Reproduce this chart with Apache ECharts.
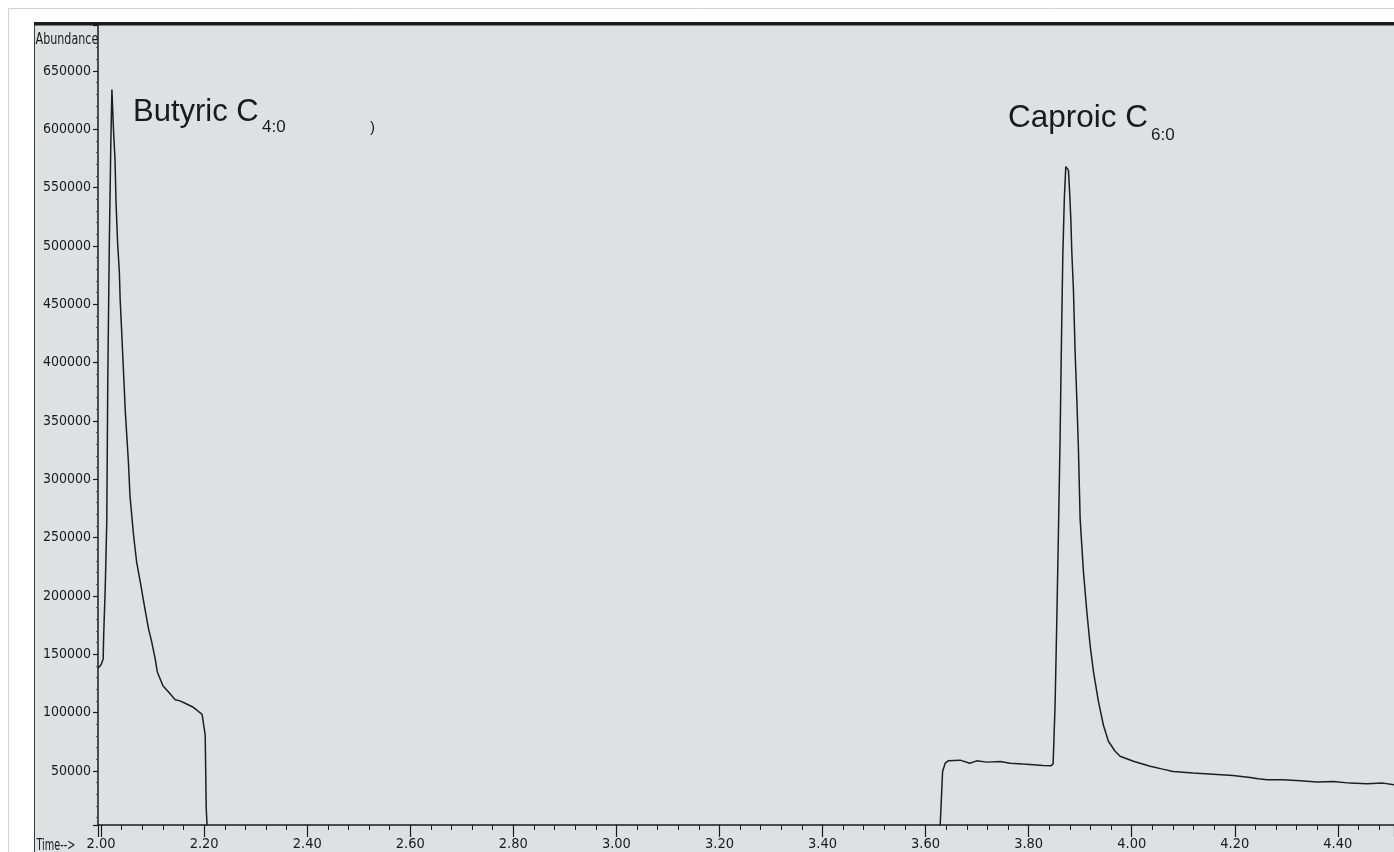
<!DOCTYPE html>
<html><head><meta charset="utf-8">
<script src="https://cdn.jsdelivr.net/npm/echarts@6/dist/echarts.min.js"></script>
<style>html,body{margin:0;padding:0;background:#fff;}#c{width:1394px;height:852px;}</style>
</head><body><div id="c"></div>
<script>
// Retention time (min)
const timeMin = [
  1.994, 2.000, 2.004, 2.005, 2.008, 2.011, 2.013, 2.016, 2.019, 2.021,
  2.024, 2.027, 2.029, 2.032, 2.0355, 2.037, 2.040, 2.043, 2.047, 2.053,
  2.056, 2.063, 2.069, 2.076, 2.085, 2.092, 2.098, 2.105, 2.109, 2.120,
  2.130, 2.138, 2.144, 2.153, 2.163, 2.177, 2.186, 2.196, 2.202, 2.203,
  2.204, 2.206,
  3.628, 3.633, 3.638, 3.644, 3.667, 3.686, 3.699, 3.719, 3.745, 3.764,
  3.789, 3.809, 3.828, 3.843, 3.8475, 3.8513, 3.8546, 3.8577, 3.8610, 3.8624,
  3.8643, 3.8663, 3.8694, 3.8721, 3.8772, 3.8791, 3.8819, 3.8838, 3.8869, 3.8902,
  3.8935, 3.8966, 3.8999, 3.9063, 3.9129, 3.9193, 3.9257, 3.9354, 3.9451, 3.9548,
  3.9678, 3.9775, 4.0033, 4.0357, 4.060, 4.0804, 4.1192, 4.1580, 4.1968, 4.2298,
  4.2453, 4.2628, 4.2939, 4.3268, 4.3598, 4.3909, 4.4238, 4.4568, 4.4878, 4.5093
];
// Abundance
const abundance = [
  138000, 141000, 146000, 166000, 206000, 263000, 386000, 503000, 591000, 634000,
  600000, 574000, 537000, 503000, 477000, 454000, 426000, 397000, 358000, 315000,
  286000, 252000, 229000, 212000, 189000, 172000, 161000, 146000, 135000, 123000,
  118000, 114000, 111000, 110000, 108000, 105000, 102000, 98500, 80600, 49800,
  18100, 0,
  0, 49500, 56600, 58600, 59200, 56600, 58600, 57500, 58100, 56600,
  55800, 55200, 54600, 54300, 56000, 106500, 178000, 251800, 334500, 379000,
  437200, 491300, 542600, 568000, 565000, 550000, 522600, 494400, 462700, 408900,
  368700, 325900, 266000, 220800, 186600, 157500, 135300, 109600, 89100, 75400,
  66800, 62600, 58300, 54000, 51500, 49500, 48100, 47200, 46100, 44400,
  43200, 42300, 42300, 41500, 40400, 40900, 39500, 38900, 39500, 38100
];
const peakNames = ['Butyric C', 'Caproic C'];
const peakSubs = ['4:0', '6:0'];
const yAxisTitle = 'Abundance';
const xAxisTitle = 'Time-->';

const NARROW = '"Liberation Sans Narrow", "DejaVu Sans Condensed", sans-serif';
const SANS = '"Liberation Sans", Arial, sans-serif';

const chart = echarts.init(document.getElementById('c'), null, {renderer: 'canvas'});
const data = timeMin.map((t, i) => [t, abundance[i]]);

chart.setOption({
  animation: false,
  backgroundColor: '#ffffff',
  grid: {left: 98, right: 0, top: 25, bottom: 25, containLabel: false},
  xAxis: {
    type: 'value', min: 1.994, max: 4.509,
    minInterval: 0.2, maxInterval: 0.2,
    axisLine: {show: true, onZero: false, lineStyle: {color: '#1a1a1a', width: 1.5}},
    axisTick: {show: true, inside: false, length: 12, lineStyle: {color: '#1a1a1a', width: 1.2}},
    minorTick: {show: true, splitNumber: 5, length: 5, lineStyle: {color: '#1a1a1a', width: 1}},
    splitLine: {show: false},
    axisLabel: {
      show: true, margin: 12, showMinLabel: false, showMaxLabel: false,
      fontFamily: NARROW, fontSize: 14.5, color: '#1a1a1a',
      formatter: v => v.toFixed(2)
    }
  },
  yAxis: {
    type: 'value', min: 3600, max: 689400,
    minInterval: 50000, maxInterval: 50000,
    axisLine: {show: true, lineStyle: {color: '#1a1a1a', width: 1.5}},
    axisTick: {show: true, length: 5, lineStyle: {color: '#1a1a1a', width: 1.2}},
    minorTick: {show: true, splitNumber: 5, length: 2, lineStyle: {color: '#555', width: 1}},
    splitLine: {show: false},
    axisLabel: {
      show: true, margin: 7, showMinLabel: false, showMaxLabel: false,
      fontFamily: NARROW, fontSize: 14, color: '#1a1a1a',
      formatter: v => String(Math.round(v))
    }
  },
  series: [{
    type: 'line', data: data, showSymbol: false, symbol: 'none',
    clip: true, z: 5,
    lineStyle: {color: '#1e1e1e', width: 1.5}
  }],
  graphic: [
    {type: 'rect', z: -20, silent: true, shape: {x: 8.5, y: 8.5, width: 1400, height: 900},
      style: {fill: '#ffffff', stroke: '#d2d2d2', lineWidth: 1}},
    {type: 'rect', z: -19, silent: true, shape: {x: 34, y: 22, width: 1360, height: 830},
      style: {fill: '#dfe0e2'}},
    {type: 'line', z: -18, silent: true, shape: {x1: 34.5, y1: 22, x2: 34.5, y2: 852},
      style: {stroke: '#3a3a3a', lineWidth: 1}},
    {type: 'rect', z: -18, silent: true, shape: {x: 34, y: 22, width: 1360, height: 3.5},
      style: {fill: '#1c1c1c'}},
    {type: 'text', z: 10, silent: true, x: 35.5, y: 40, scaleX: 0.8,
      style: {x: 0, y: 0, text: yAxisTitle,
      font: '15.5px ' + NARROW, fill: '#1a1a1a', verticalAlign: 'middle', align: 'left'}},
    {type: 'text', z: 10, silent: true, x: 36.5, y: 846.5, scaleX: 0.72,
      style: {x: 0, y: 0, text: xAxisTitle,
      font: '15px ' + NARROW, fill: '#1a1a1a', verticalAlign: 'middle', align: 'left'}},
    {type: 'text', z: 10, silent: true, style: {x: 133, y: 112.5, text: peakNames[0],
      font: '31px ' + SANS, fill: '#1a1a1a', verticalAlign: 'middle', align: 'left'}},
    {type: 'text', z: 10, silent: true, style: {x: 262, y: 127.5, text: peakSubs[0],
      font: '17px ' + SANS, fill: '#1a1a1a', verticalAlign: 'middle', align: 'left'}},
    {type: 'text', z: 10, silent: true, style: {x: 370, y: 128, text: ')',
      font: '15px ' + SANS, fill: '#1a1a1a', verticalAlign: 'middle', align: 'left'}},
    {type: 'text', z: 10, silent: true, style: {x: 1008, y: 118.5, text: peakNames[1],
      font: '31.5px ' + SANS, fill: '#1a1a1a', verticalAlign: 'middle', align: 'left'}},
    {type: 'text', z: 10, silent: true, style: {x: 1151, y: 135, text: peakSubs[1],
      font: '17px ' + SANS, fill: '#1a1a1a', verticalAlign: 'middle', align: 'left'}}
  ]
});
</script>
</body></html>
